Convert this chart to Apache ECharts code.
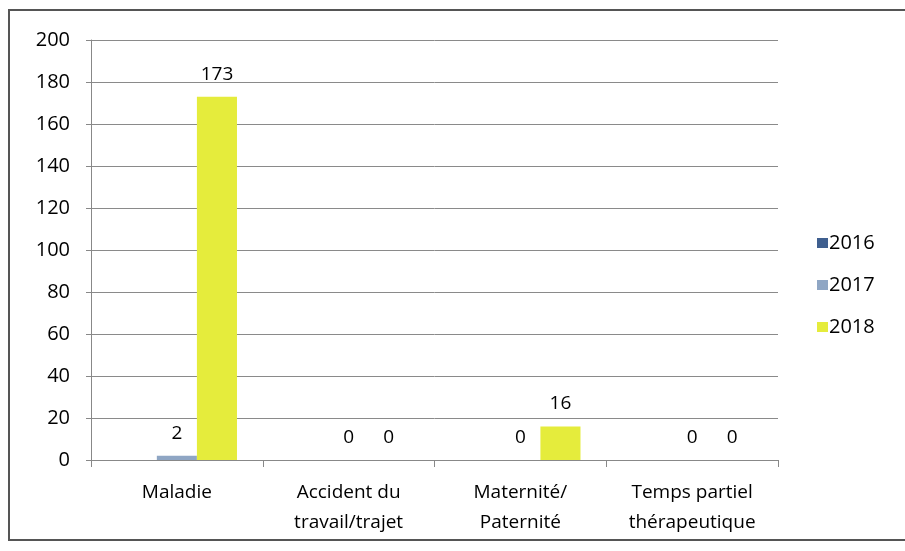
<!DOCTYPE html>
<html>
<head>
<meta charset="utf-8">
<script src="https://cdn.jsdelivr.net/npm/echarts@6/dist/echarts.min.js"></script>
<style>
  html, body { margin: 0; padding: 0; background: #fff; }
  #chart { width: 905px; height: 551px; }
</style>
</head>
<body>
<div id="chart"></div>
<script>
// Absences by reason, per year
const categories = ['Maladie', 'Accident du\ntravail/trajet', 'Maternité/\nPaternité', 'Temps partiel\nthérapeutique'];
const years = ['2016', '2017', '2018'];
const values2016 = [null, null, null, null];
const values2017 = [2, 0, 0, 0];
const values2018 = [173, 0, 16, 0];
const yTicks = { min: 0, max: 200, interval: 20 };

const colors = ['#3f5f8f', '#8fa6c4', '#e5ec3c'];
const font = '"Open Sans", Lato, sans-serif';

const chart = echarts.init(document.getElementById('chart'));

function makeSeries(name, data, color) {
  return {
    name: name,
    type: 'bar',
    data: data,
    itemStyle: { color: color },
    barGap: '0%',
    barCategoryGap: '30%',
    label: {
      show: true,
      position: 'top',
      color: '#000',
      fontFamily: font,
      fontSize: 19,
      distance: 13
    }
  };
}

chart.setOption({
  animation: false,
  textStyle: { fontFamily: font },
  graphic: [{
    type: 'rect',
    shape: { x: 9, y: 10, width: 905, height: 530 },
    style: { fill: 'none', stroke: '#555', lineWidth: 2 },
    silent: true
  }],
  grid: { left: 91, right: 127, top: 40, bottom: 91, containLabel: false },
  legend: {
    data: years,
    orient: 'vertical',
    left: 812,
    top: 228,
    itemWidth: 11,
    itemHeight: 10,
    itemGap: 22,
    icon: 'rect',
    textStyle: { fontSize: 20, color: '#000', fontFamily: font, padding: [0, 0, 0, -4] }
  },
  xAxis: {
    type: 'category',
    data: categories,
    axisLine: { lineStyle: { color: '#888' } },
    axisTick: { show: true, length: 7, lineStyle: { color: '#888' } },
    axisLabel: {
      color: '#000',
      fontSize: 19,
      fontFamily: font,
      margin: 18,
      lineHeight: 30
    }
  },
  yAxis: {
    type: 'value',
    min: yTicks.min,
    max: yTicks.max,
    interval: yTicks.interval,
    axisLine: { show: true, lineStyle: { color: '#888' } },
    axisTick: { show: true, length: 5, lineStyle: { color: '#888' } },
    splitLine: { lineStyle: { color: '#8a8a8a' } },
    axisLabel: { color: '#000', fontSize: 20, fontFamily: font, margin: 21 }
  },
  series: [
    makeSeries(years[0], values2016, colors[0]),
    makeSeries(years[1], values2017, colors[1]),
    makeSeries(years[2], values2018, colors[2])
  ]
});
</script>
</body>
</html>
